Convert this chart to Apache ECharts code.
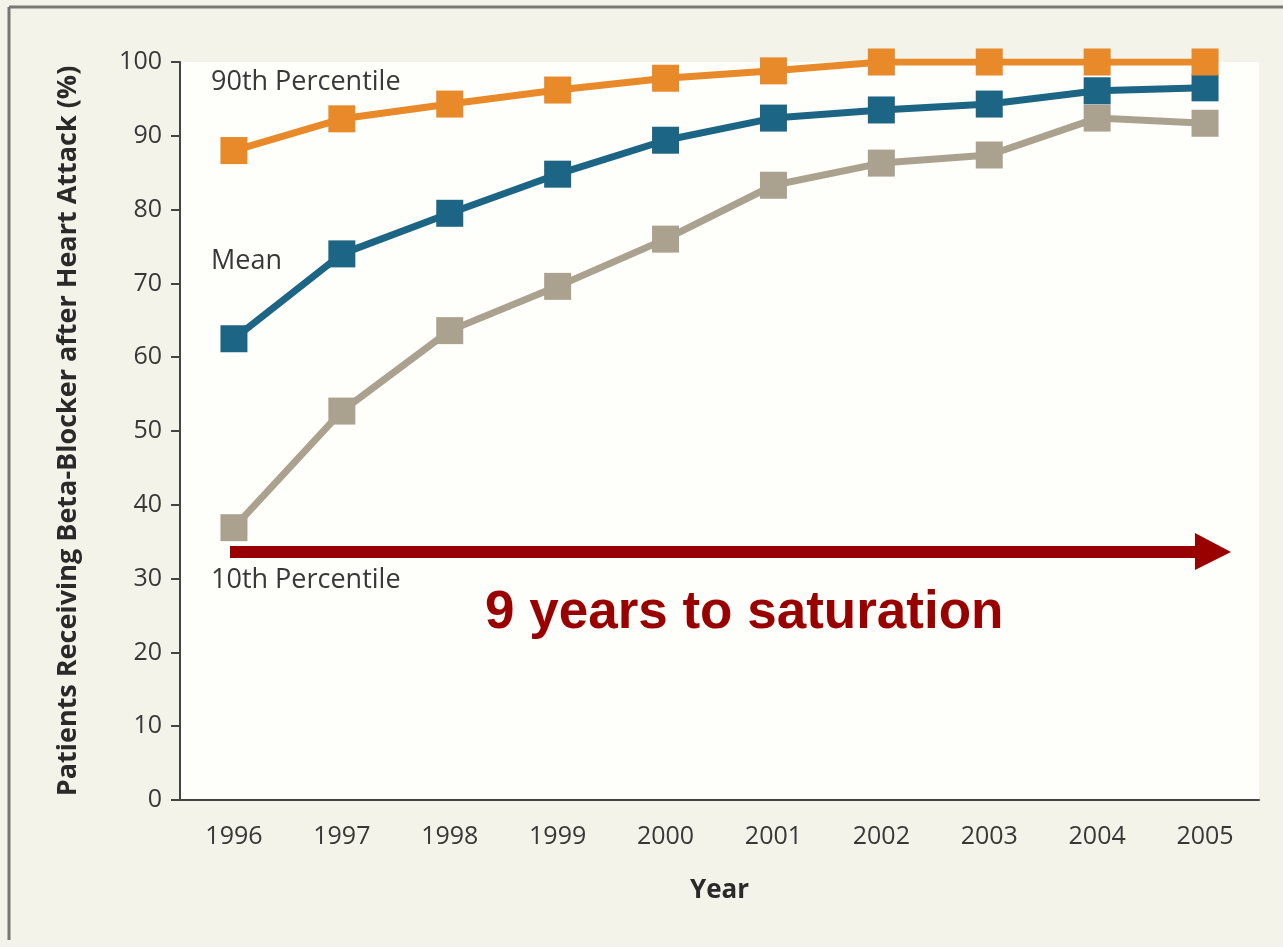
<!DOCTYPE html>
<html>
<head>
<meta charset="utf-8">
<script src="https://cdn.jsdelivr.net/npm/echarts@6/dist/echarts.min.js"></script>
<style>
html,body{margin:0;padding:0;background:#f4f3e9;}
#main{width:1283px;height:947px;}
</style>
</head>
<body>
<div id="main"></div>
<script>
// 年份
var years = ['1996','1997','1998','1999','2000','2001','2002','2003','2004','2005'];
// 各系列数值 (%)
var p90 = [88, 92.3, 94.3, 96.2, 97.8, 98.8, 100, 100, 100, 100];
var meanVals = [62.5, 74.0, 79.5, 84.8, 89.4, 92.4, 93.5, 94.3, 96.1, 96.5];
var p10 = [36.9, 52.7, 63.6, 69.6, 76.0, 83.3, 86.3, 87.4, 92.4, 91.7];

var seriesNames = ['90th Percentile', 'Mean', '10th Percentile'];
var seriesColors = ['#e8892a', '#1d6585', '#aaa28e'];

var myChart = echarts.init(document.getElementById('main'));

function lineSeries(name, data, color){
	return {
		name: name,
		type: 'line',
		data: data,
		symbol: 'rect',
		symbolSize: 27,
		lineStyle: {color: color, width: 7},
		itemStyle: {color: color},
		z: 3
	};
}

var labelFont = {fontFamily: 'Open Sans', fontSize: 27, fill: '#383838'};

var option = {
	backgroundColor: '#f4f3e9',
	animation: false,
	grid: {
		left: 180, right: 24, top: 62, bottom: 147,
		show: true, backgroundColor: '#fefefa', borderWidth: 0
	},
	xAxis: {
		type: 'category',
		data: years,
		boundaryGap: true,
		name: 'Year',
		nameLocation: 'middle',
		nameGap: 78,
		nameTextStyle: {fontFamily: 'Open Sans', fontSize: 26, fontWeight: 'bold', color: '#2a2a2a'},
		axisLine: {lineStyle: {color: '#444', width: 2}},
		axisTick: {alignWithLabel: true, length: 9, lineStyle: {color: '#444', width: 2}},
		axisLabel: {fontFamily: 'Open Sans', fontSize: 25, color: '#383838', margin: 24}
	},
	yAxis: {
		type: 'value',
		min: 0, max: 100, interval: 10,
		name: 'Patients Receiving Beta-Blocker after Heart Attack (%)',
		nameLocation: 'middle',
		nameGap: 98,
		nameTextStyle: {fontFamily: 'Open Sans', fontSize: 27, fontWeight: 'bold', color: '#2a2a2a'},
		axisLine: {show: true, lineStyle: {color: '#444', width: 2}},
		axisTick: {show: true, length: 9, lineStyle: {color: '#444', width: 2}},
		axisLabel: {fontFamily: 'Open Sans', fontSize: 25, color: '#383838', margin: 18},
		splitLine: {show: false}
	},
	series: [
		lineSeries(seriesNames[2], p10, seriesColors[2]),
		lineSeries(seriesNames[1], meanVals, seriesColors[1]),
		lineSeries(seriesNames[0], p90, seriesColors[0])
	],
	graphic: [
		//外框
		{type: 'line', shape: {x1: 9, y1: 7, x2: 1283, y2: 7}, style: {stroke: '#777', lineWidth: 3}},
		{type: 'line', shape: {x1: 9, y1: 7, x2: 9, y2: 940}, style: {stroke: '#777', lineWidth: 3}},
		//系列标签
		{type: 'text', left: 211, top: 69, style: Object.assign({text: seriesNames[0]}, labelFont)},
		{type: 'text', left: 211, top: 248, style: Object.assign({text: seriesNames[1]}, labelFont)},
		{type: 'text', left: 211, top: 567, style: Object.assign({text: seriesNames[2]}, labelFont)},
		//红色箭头
		{type: 'polygon', z: 10, shape: {points: [[230,546],[1195,546],[1195,533],[1231,552],[1195,570],[1195,558],[230,558]]}, style: {fill: '#990000'}},
		{type: 'text', z: 10, left: 485, top: 587, style: {text: '9 years to saturation', fontFamily: 'Liberation Sans', fontSize: 53, fontWeight: 'bold', fill: '#990000'}}
	]
};
myChart.setOption(option);
</script>
</body>
</html>
